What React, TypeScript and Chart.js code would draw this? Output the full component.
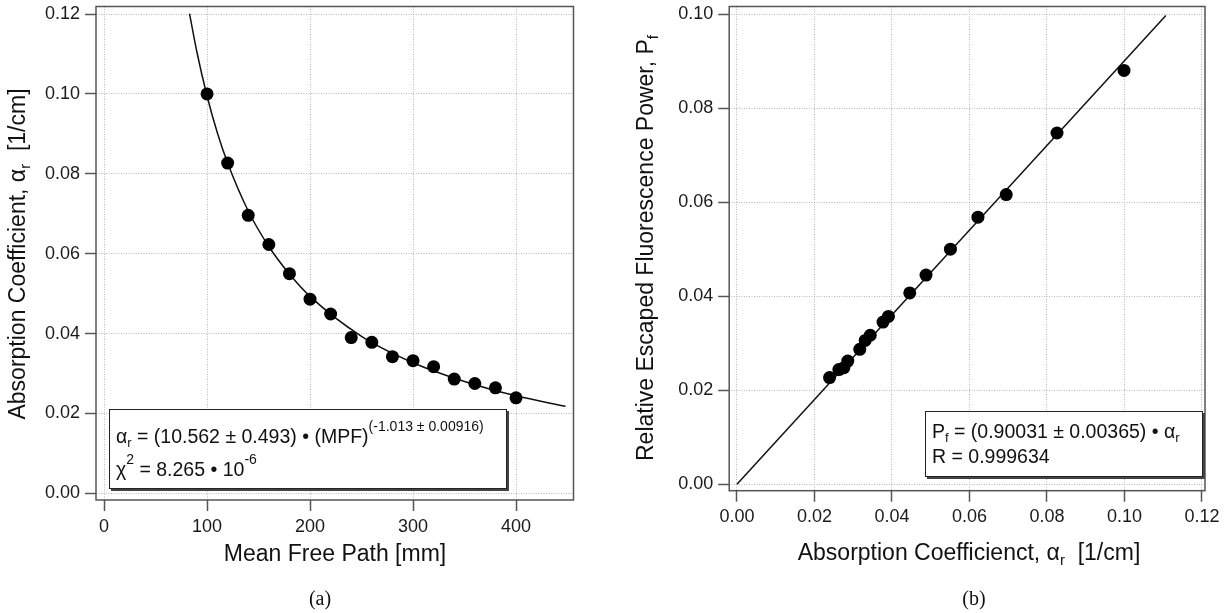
import { useEffect, useRef } from 'react';
import { Chart, registerables } from 'chart.js';
Chart.register(...registerables);

const SANS = "'Liberation Sans', Arial, Helvetica, sans-serif";
const SERIF = "'Liberation Serif', 'Times New Roman', serif";

// ---------- Panel (a): absorption coefficient vs mean free path ----------
const mfpPoints = [100, 120, 140, 160, 180, 200, 220, 240, 260, 280, 300, 320, 340, 360, 380, 400];
const alphaPoints = [0.1, 0.0827, 0.0696, 0.0623, 0.055, 0.0486, 0.0449, 0.039, 0.0378, 0.0342, 0.0332, 0.0317, 0.0286, 0.0275, 0.0264, 0.0239];
const fitCurveMfp = [83, 90, 100, 110, 120, 140, 160, 180, 200, 250, 300, 350, 400, 448];
const fitCurveAlpha = [0.1201, 0.1107, 0.0995, 0.0903, 0.0827, 0.0707, 0.0618, 0.0549, 0.0493, 0.0393, 0.0327, 0.028, 0.0244, 0.0218];
const aXRange = [-7.8, 455.8];
const aYRange = [-0.00168, 0.1219];
const aXStep = 100;
const aYStep = 0.02;

// ---------- Panel (b): escaped fluorescence power vs absorption coefficient ----------
const alphaB = [0.0999, 0.0826, 0.0695, 0.0622, 0.0551, 0.0488, 0.0446, 0.0391, 0.0377, 0.0344, 0.0331, 0.0317, 0.0286, 0.0276, 0.0263, 0.0239];
const powerB = [0.088, 0.0747, 0.0616, 0.0568, 0.05, 0.0445, 0.0407, 0.0357, 0.0345, 0.0317, 0.0306, 0.0287, 0.0262, 0.0248, 0.0244, 0.0227];
const fitLineAlphaB = [0, 0.1107];
const fitLinePowerB = [0, 0.0997];
const bXRange = [-0.002, 0.1208];
const bYRange = [-0.00136, 0.1016];
const bXStep = 0.02;
const bYStep = 0.02;

type Seg = { t: string; s: number; dy?: number; f?: string };

function richWidth(ctx: CanvasRenderingContext2D, segs: Seg[]) {
  let w = 0;
  for (const g of segs) {
    ctx.font = `${g.s}px ${g.f || SANS}`;
    w += ctx.measureText(g.t).width;
  }
  return w;
}

function drawRich(ctx: CanvasRenderingContext2D, segs: Seg[], x: number, y: number, align: 'left' | 'center') {
  let cx = align === 'center' ? x - richWidth(ctx, segs) / 2 : x;
  ctx.textAlign = 'left';
  ctx.textBaseline = 'alphabetic';
  for (const g of segs) {
    ctx.font = `${g.s}px ${g.f || SANS}`;
    ctx.fillText(g.t, cx, y + (g.dy || 0));
    cx += ctx.measureText(g.t).width;
  }
}

type Decor = {
  box: { x: number; y: number; w: number; h: number };
  boxLines: { x: number; y: number; segs: Seg[] }[];
  yTitle: { x: number; y: number; segs: Seg[] };
  xTitle: { x: number; y: number; segs: Seg[] };
  label: { x: number; y: number; text: string };
};

function decorPlugin(d: Decor) {
  return {
    id: 'decor',
    beforeDatasetsDraw(chart: any) {
      const { ctx, chartArea: a } = chart;
      ctx.save();
      ctx.strokeStyle = '#555';
      ctx.lineWidth = 1.5;
      ctx.strokeRect(a.left, a.top, a.right - a.left, a.bottom - a.top);
      ctx.restore();
    },
    afterDatasetsDraw(chart: any) {
      const ctx: CanvasRenderingContext2D = chart.ctx;
      const b = d.box;
      ctx.save();
      ctx.fillStyle = '#444';
      ctx.fillRect(b.x + 2, b.y + 2, b.w, b.h);
      ctx.fillStyle = '#fff';
      ctx.fillRect(b.x, b.y, b.w, b.h);
      ctx.strokeStyle = '#222';
      ctx.lineWidth = 1;
      ctx.strokeRect(b.x + 0.5, b.y + 0.5, b.w - 1, b.h - 1);
      ctx.fillStyle = '#111';
      for (const l of d.boxLines) drawRich(ctx, l.segs, l.x, l.y, 'left');
      ctx.restore();
    },
    afterDraw(chart: any) {
      const ctx: CanvasRenderingContext2D = chart.ctx;
      ctx.save();
      ctx.fillStyle = '#111';
      ctx.save();
      ctx.translate(d.yTitle.x, d.yTitle.y);
      ctx.rotate(-Math.PI / 2);
      drawRich(ctx, d.yTitle.segs, 0, 0, 'center');
      ctx.restore();
      drawRich(ctx, d.xTitle.segs, d.xTitle.x, d.xTitle.y, 'center');
      drawRich(ctx, [{ t: d.label.text, s: 20, f: SERIF }], d.label.x, d.label.y, 'center');
      ctx.restore();
    },
  };
}

function axisOpts(range: number[], step: number, digits: number, fit: (s: any) => void, padding: number) {
  return {
    type: 'linear' as const,
    min: range[0],
    max: range[1],
    afterFit: fit,
    ticks: {
      stepSize: step,
      includeBounds: false,
      autoSkip: false,
      maxRotation: 0,
      padding,
      color: '#1a1a1a',
      font: { family: SANS, size: 18 },
      callback: (v: any) => Number(v).toFixed(digits),
    },
    grid: {
      color: '#b8b8b8',
      lineWidth: 1,
      tickLength: 11,
      tickColor: '#555',
      tickWidth: 1.5,
    },
    border: { display: false, dash: [1, 1.5] },
  };
}

function buildChart(
  canvas: HTMLCanvasElement,
  points: { x: number; y: number }[],
  fit: { x: number; y: number }[],
  curved: boolean,
  xRange: number[], yRange: number[], xStep: number, yStep: number,
  xDigits: number, yDigits: number,
  yAxisWidth: number, xAxisHeight: number, padTop: number, padRight: number,
  decor: Decor,
) {
  return new Chart(canvas, {
    type: 'scatter',
    data: {
      datasets: [
        {
          data: points,
          pointRadius: 6.5,
          pointBackgroundColor: '#000',
          pointBorderWidth: 0,
          showLine: false,
        },
        {
          data: fit,
          showLine: true,
          pointRadius: 0,
          borderColor: '#111',
          borderWidth: 1.5,
          cubicInterpolationMode: curved ? 'monotone' : 'default',
        },
      ],
    } as any,
    options: {
      responsive: false,
      maintainAspectRatio: false,
      animation: false,
      layout: { padding: { top: padTop, right: padRight, left: 0, bottom: 0 } },
      plugins: { legend: { display: false }, tooltip: { enabled: false }, title: { display: false } },
      scales: {
        x: axisOpts(xRange, xStep, xDigits, (s: any) => {
          s.height = xAxisHeight;
          s.paddingLeft = 0;
          s.paddingRight = 0;
        }, 5),
        y: axisOpts(yRange, yStep, yDigits, (s: any) => {
          s.width = yAxisWidth;
          s.paddingTop = 0;
          s.paddingBottom = 0;
        }, 5),
      },
    } as any,
    plugins: [decorPlugin(decor)],
  });
}

const BOX = 19.5;
const SUP = 14;
const SUB = 13;
const TITLE = 23;

export default function App() {
  const refA = useRef<HTMLCanvasElement>(null);
  const refB = useRef<HTMLCanvasElement>(null);

  useEffect(() => {
    const ptsA = mfpPoints.map((x, i) => ({ x, y: alphaPoints[i] }));
    const fitA = fitCurveMfp.map((x, i) => ({ x, y: fitCurveAlpha[i] }));
    const chartA = buildChart(
      refA.current!, ptsA, fitA, true,
      aXRange, aYRange, aXStep, aYStep, 0, 2,
      96, 113, 6, 40.5,
      {
        box: { x: 109, y: 409, w: 398, h: 80 },
        boxLines: [
          {
            x: 116, y: 442.5, segs: [
              { t: 'α', s: BOX }, { t: 'r', s: SUB, dy: 4 },
              { t: ' = (10.562 ± 0.493) • (MPF)', s: BOX },
              { t: '(-1.013 ± 0.00916)', s: SUP, dy: -11.5 },
            ],
          },
          {
            x: 116, y: 475.5, segs: [
              { t: 'χ', s: BOX }, { t: '2', s: SUP, dy: -12 },
              { t: ' = 8.265 • 10', s: BOX }, { t: '-6', s: SUP, dy: -12 },
            ],
          },
        ],
        yTitle: {
          x: 25, y: 254, segs: [
            { t: 'Absorption Coefficient, α', s: TITLE }, { t: 'r', s: 15, dy: 5 }, { t: '  [1/cm]', s: TITLE },
          ],
        },
        xTitle: { x: 335, y: 561, segs: [{ t: 'Mean Free Path [mm]', s: TITLE }] },
        label: { x: 320, y: 605, text: '(a)' },
      },
    );

    const ptsB = alphaB.map((x, i) => ({ x, y: powerB[i] }));
    const fitB = fitLineAlphaB.map((x, i) => ({ x, y: fitLinePowerB[i] }));
    const chartB = buildChart(
      refB.current!, ptsB, fitB, false,
      bXRange, bYRange, bXStep, bYStep, 2, 2,
      115.2, 122.3, 6, 23,
      {
        box: { x: 311, y: 411, w: 278, h: 66 },
        boxLines: [
          {
            x: 318, y: 437.7, segs: [
              { t: 'P', s: BOX }, { t: 'f', s: SUB, dy: 4 },
              { t: ' = (0.90031 ± 0.00365) • α', s: BOX }, { t: 'r', s: SUB, dy: 4 },
            ],
          },
          { x: 318, y: 463, segs: [{ t: 'R = 0.999634', s: BOX }] },
        ],
        yTitle: {
          x: 39, y: 248, segs: [
            { t: 'Relative Escaped Fluorescence Power, P', s: TITLE }, { t: 'f', s: 15, dy: 5 },
          ],
        },
        xTitle: {
          x: 355, y: 560, segs: [
            { t: 'Absorption Coefficienct, α', s: TITLE }, { t: 'r', s: 15, dy: 5 }, { t: '  [1/cm]', s: TITLE },
          ],
        },
        label: { x: 360, y: 605, text: '(b)' },
      },
    );

    return () => {
      chartA.destroy();
      chartB.destroy();
    };
  }, []);

  return (
    <div style={{ position: 'fixed', left: 0, top: 0, width: 1228, height: 613, background: '#fff' }}>
      <canvas ref={refA} width={614} height={613} style={{ position: 'absolute', left: 0, top: 0, display: 'block' }} />
      <canvas ref={refB} width={614} height={613} style={{ position: 'absolute', left: 614, top: 0, display: 'block' }} />
    </div>
  );
}
